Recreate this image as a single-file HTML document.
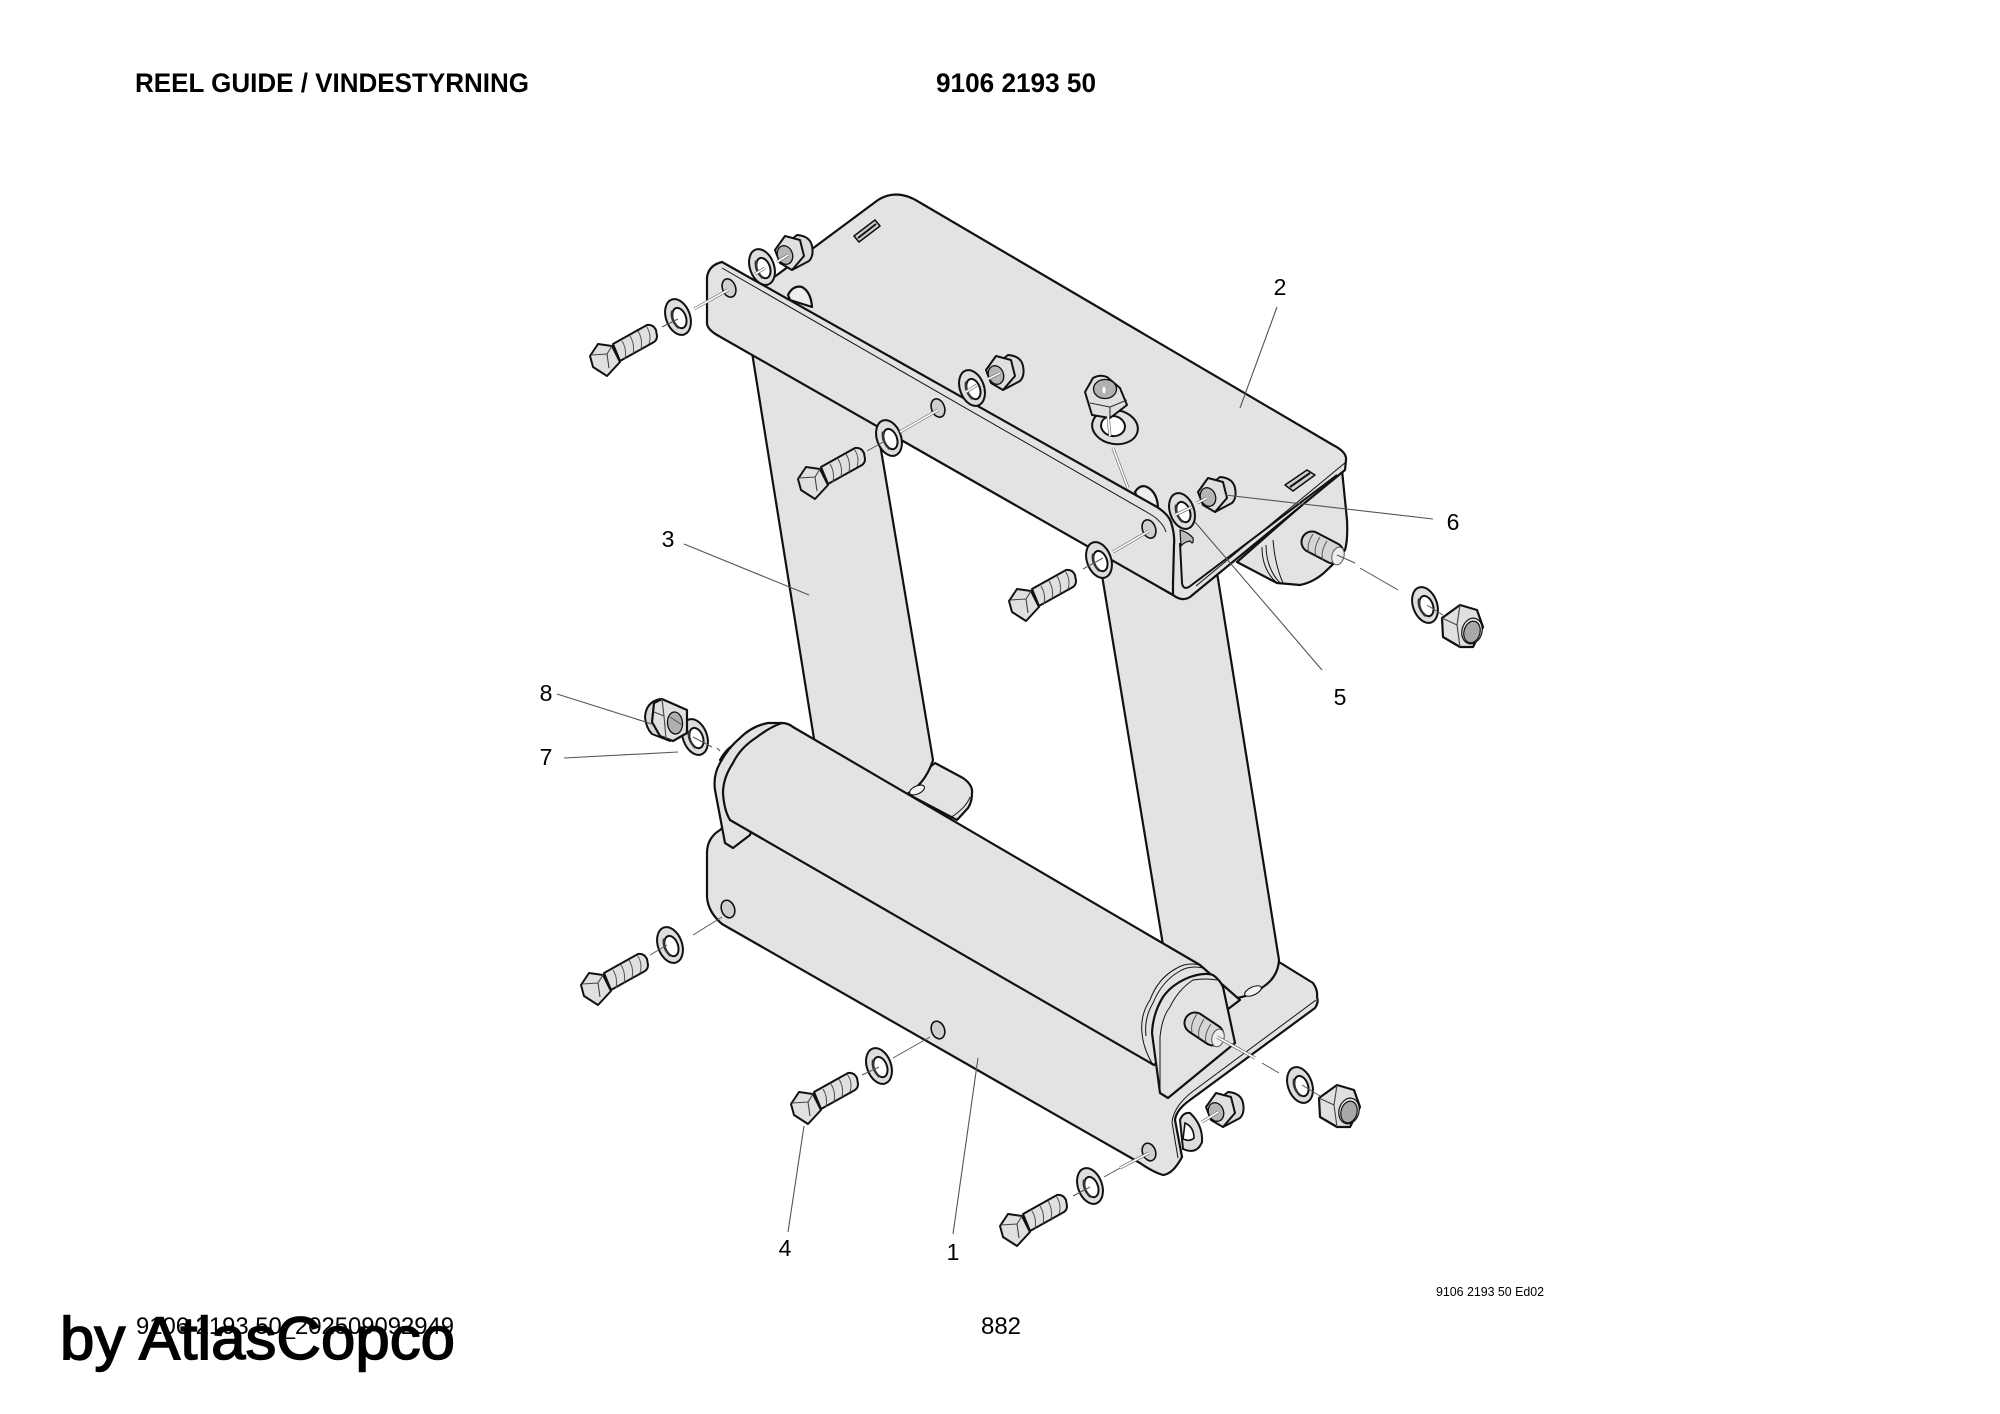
<!DOCTYPE html>
<html><head><meta charset="utf-8"><title>Reel Guide</title>
<style>html,body{margin:0;padding:0;background:#fff;width:2000px;height:1414px;overflow:hidden}svg{display:block}text{font-family:"Liberation Sans",sans-serif;fill:#000}</style></head>
<body>
<svg width="2000" height="1414" viewBox="0 0 2000 1414" xmlns="http://www.w3.org/2000/svg">
<defs>
<g id="bolt" stroke="#111" stroke-width="2" stroke-linejoin="round" fill="#e0e0e0">
<path d="M23 -12L57 -31Q63 -32 66 -26L67 -20Q67 -16 64 -14L30 5Z"/>
<path d="M32 -15Q37 -7 35 3M40 -20Q45 -12 43 -2M48 -25Q53 -17 51 -7M56 -30Q62 -22 59 -12" fill="none" stroke-width="1" stroke="#555"/>
<path d="M0 0L8 -12L22 -10L30 6L17 20L3 11Z"/>
<path d="M1 -1L17 -2L22 -10M17 -2L19 12" fill="none" stroke-width="1.1" stroke="#444"/>
</g>
<g id="washer">
<ellipse rx="12" ry="18.5" transform="rotate(-20)" fill="#dedede" stroke="#111" stroke-width="2"/>
<ellipse cx="1" cy="1.5" rx="6.5" ry="10.5" transform="rotate(-20)" fill="#fff" stroke="#111" stroke-width="2"/>
<path d="M-5 -7Q-8 2 -1 11" transform="rotate(-8)" fill="none" stroke="#333" stroke-width="2.4"/>
</g>
<g id="nut" stroke="#111" stroke-linejoin="round">
<path d="M5 -18Q18 -17 20 -7Q22 3 17 8L0 17L-5 -10Z" fill="#dcdcdc" stroke-width="2"/>
<path d="M-17 -3L-7 -17L8 -13L12 3L0 17L-12 10Z" fill="#e0e0e0" stroke-width="2"/>
<ellipse cx="-7" cy="2" rx="7.5" ry="9.5" transform="rotate(-20 -7 2)" fill="#b5b5b5" stroke-width="1.3"/>
</g>
<g id="nutR" stroke="#111" stroke-linejoin="round">
<path d="M-18 -9L0 -22L17 -17L23 0L13 20L0 20L-17 10Z" fill="#e0e0e0" stroke-width="2.2"/>
<path d="M-18 -9L-3 -2L0 20M-3 -2L0 -22" fill="none" stroke-width="1.1" stroke="#444"/>
<ellipse cx="12" cy="4" rx="10" ry="13" transform="rotate(15 12 4)" fill="#eee" stroke-width="1.2"/>
<ellipse cx="12" cy="5" rx="8" ry="11" transform="rotate(15 12 5)" fill="#a8a8a8" stroke-width="1.2"/>
</g>
</defs>

<rect width="2000" height="1414" fill="#fff"/>

<g fill="#e3e3e3" stroke="#111" stroke-width="2.2" stroke-linejoin="round">
<!-- lower bar + foot -->
<path d="M720 830Q707 838 707 853L707 897Q708 912 722 924L1140 1163Q1153 1172 1163 1175Q1173 1174 1182 1157L1175 1120Q1176 1110 1190 1100L1315 1008Q1319 1002 1317 997Q1318 990 1313 983L1279 962L1200 1000L1154 1064L730 820Z"/>
<path d="M1316 1000L1192 1092Q1174 1106 1172 1122L1178 1158" fill="none" stroke-width="1"/>
<!-- left foot tab -->
<path d="M935 763L963 778Q973 785 972 793Q972 802 968 808L957 820L900 790Z"/>
<path d="M970 797Q966 808 950 818" fill="none" stroke-width="1"/>
<!-- right leg -->
<path d="M1097 545L1163 945L1230 999Q1250 997 1263 987Q1278 977 1279 960L1215 560Z"/>
<ellipse cx="1253" cy="991" rx="9" ry="4" transform="rotate(-25 1253 991)" fill="#f3f3f3" stroke-width="1.1"/>
<!-- left leg -->
<path d="M750 340L815 745L905 795Q925 785 933 760L876 420Z"/>
<ellipse cx="917" cy="790" rx="8" ry="4" transform="rotate(-25 917 790)" fill="#f3f3f3" stroke-width="1.1"/>
<!-- top roller end behind plate -->
<path d="M1342 470L1347 520Q1348 540 1345 550Q1338 560 1327 570Q1315 582 1300 585L1277 583L1237 562Z"/>
<path d="M1262 547Q1262 570 1277 583M1273 540Q1275 565 1283 583M1266 545Q1266 568 1280 583" fill="none" stroke-width="1"/>
<!-- top plate -->
<path d="M777 275L878 200Q897 188 919 202L1333 445Q1347 452 1346 460L1345 470L1190 597Q1182 602 1173 595L707 323Z"/>
<path d="M1180 543L1182 583Q1183 590 1189 587L1337 475" fill="none" stroke-width="2"/>
<path d="M1346 462L1196 586" fill="none" stroke-width="1"/>
<!-- slots -->
<path d="M1285 485L1307 470L1315 475L1293 491Z" fill="#d0d0d0" stroke-width="1.6"/>
<path d="M1290 487L1310 473" fill="none" stroke-width="2"/>
<path d="M854 236L875 220L880 226L859 242Z" fill="#d0d0d0" stroke-width="1.6"/>
<path d="M858 238L876 224" fill="none" stroke-width="2"/>
<!-- small studs behind bar -->
<path d="M788 295Q793 285 802 287Q811 292 812 307L790 300Z" fill="#eee"/>
<path d="M1135 492Q1140 484 1147 487Q1157 492 1158 507L1138 500Z" fill="#eee"/>
<path d="M1180 530Q1188 532 1193 538Q1194 546 1190 541Q1184 542 1181 546Z" fill="#bbb" stroke-width="1.2"/>
<!-- front bar -->
<path d="M707 277Q709 265 722 262L1157 507Q1168 514 1171 522Q1175 535 1174 545L1173 583L1173 595L717 335Q707 329 707 323Z"/>
<path d="M722 268L1150 514Q1163 522 1166 532" fill="none" stroke-width="1"/>
</g>

<g fill="#cfcfcf" stroke="#111" stroke-width="1.6">
<ellipse cx="729" cy="288" rx="6.5" ry="9.5" transform="rotate(-20 729 288)"/>
<ellipse cx="938" cy="408" rx="6.5" ry="9.5" transform="rotate(-20 938 408)"/>
<ellipse cx="1149" cy="529" rx="6.5" ry="9.5" transform="rotate(-20 1149 529)" />
<ellipse cx="728" cy="909" rx="6.5" ry="9" transform="rotate(-20 728 909)"/>
<ellipse cx="938" cy="1030" rx="6.5" ry="9" transform="rotate(-20 938 1030)"/>
<ellipse cx="1149" cy="1152" rx="6.5" ry="9" transform="rotate(-20 1149 1152)"/>
</g>

<!-- roller assembly -->
<g fill="#e3e3e3" stroke="#111" stroke-width="2.2" stroke-linejoin="round">
<path d="M720 760Q727 748 734 745L732 765Z" fill="#ccc"/>
<path d="M725 843L715 790Q713 775 720 763Q728 748 740 738Q752 726 768 723L782 723L760 800L750 835L733 848Z"/>
<path d="M733 848L725 843" fill="none"/>
<path d="M782 723Q770 727 757 737Q740 748 733 763Q723 778 723 793Q724 810 730 820L1154 1065L1240 1000L1200 965L793 727Q788 723 782 723Z"/>
<path d="M1200 965Q1187 962 1177 968Q1158 978 1150 1000Q1140 1015 1142 1033Q1143 1048 1153 1065" fill="none" stroke-width="1"/>
<path d="M1203 968Q1190 965 1180 971Q1162 981 1153 1003Q1144 1018 1146 1036" fill="none" stroke-width="1"/>
<path d="M1160 1093L1152 1033Q1153 1013 1163 997Q1172 984 1190 977Q1205 972 1213 975Q1220 980 1223 987L1235 1043L1168 1098Z"/>
<path d="M1160 1093L1168 1098" fill="none"/>
<path d="M1160 1093L1160 1037Q1162 1017 1170 1007Q1178 990 1193 980Q1206 978 1217 980" fill="none" stroke-width="1"/>
</g>

<!-- studs -->
<g fill="none" stroke-linecap="round">
<path d="M1312 542L1333 553" stroke="#111" stroke-width="23"/>
<path d="M1312 542L1333 553" stroke="#d6d6d6" stroke-width="19"/>
<path d="M1195 1023L1213 1035" stroke="#111" stroke-width="23"/>
<path d="M1195 1023L1213 1035" stroke="#d6d6d6" stroke-width="19"/>
<g stroke="#555" stroke-width="1" stroke-linecap="butt">
<path d="M1313 534Q1306 545 1309 552M1320 537Q1313 548 1316 556M1327 541Q1320 552 1323 560"/>
<path d="M1197 1014Q1190 1024 1192 1032M1204 1019Q1197 1030 1199 1037M1211 1024Q1204 1034 1206 1042"/>
</g>
<ellipse cx="1338" cy="556" rx="6" ry="9" transform="rotate(15 1338 556)" fill="#eee" stroke="#555" stroke-width="1"/>
<ellipse cx="1218" cy="1038" rx="6" ry="9" transform="rotate(15 1218 1038)" fill="#eee" stroke="#555" stroke-width="1"/>
</g>

<!-- bolts -->
<use href="#bolt" x="590" y="356"/>
<use href="#bolt" x="798" y="479"/>
<use href="#bolt" x="1009" y="601"/>
<use href="#bolt" x="581" y="985"/>
<use href="#bolt" x="791" y="1104"/>
<use href="#bolt" x="1000" y="1226"/>

<!-- washers -->
<use href="#washer" x="678" y="317"/>
<use href="#washer" x="889" y="438"/>
<use href="#washer" x="1099" y="560"/>
<use href="#washer" x="762" y="267"/>
<use href="#washer" x="972" y="388"/>
<use href="#washer" x="1182" y="511"/>
<use href="#washer" x="1425" y="605"/>
<use href="#washer" x="670" y="945"/>
<use href="#washer" x="879" y="1066"/>
<use href="#washer" x="1090" y="1186"/>
<use href="#washer" x="1300" y="1085"/>
<use href="#washer" x="695" y="737"/>

<!-- washer partly behind lower bar -->
<path d="M1190 1113Q1203 1125 1202 1142Q1197 1155 1183 1149L1180 1120Q1183 1112 1190 1113Z" fill="#dedede" stroke="#111" stroke-width="2"/>
<path d="M1185 1123Q1194 1127 1194 1138Q1190 1142 1183 1139Z" fill="#fff" stroke="#111" stroke-width="1.6"/>

<!-- nuts -->
<use href="#nut" x="792" y="253"/>
<use href="#nut" x="1003" y="373"/>
<use href="#nut" x="1215" y="495"/>
<use href="#nut" x="1223" y="1110"/>
<use href="#nutR" x="1460" y="627"/>
<use href="#nutR" x="1337" y="1107"/>
<!-- item 8 nut -->
<g stroke="#111" stroke-linejoin="round">
<path d="M660 699Q646 702 645 717Q646 728 652 734L670 741Z" fill="#d8d8d8" stroke-width="2"/>
<path d="M654 703L662 699L687 710L687 733L673 741L660 736L652 722Z" fill="#e0e0e0" stroke-width="2.2"/>
<path d="M654 712L664 716L666 739M664 716L662 699" fill="none" stroke-width="1.1" stroke="#444"/>
<ellipse cx="675" cy="723" rx="7.5" ry="11" transform="rotate(-5 675 723)" fill="#b0b0b0" stroke-width="1.3"/>
</g>

<!-- lying washer and top nut -->
<ellipse cx="1115" cy="427" rx="23" ry="17" transform="rotate(10 1115 427)" fill="#e0e0e0" stroke="#111" stroke-width="2"/>
<ellipse cx="1113" cy="426" rx="12" ry="10" transform="rotate(10 1113 426)" fill="#fff" stroke="#111" stroke-width="2"/>
<path d="M1085 392L1093 378Q1100 374 1107 377L1120 388L1127 405L1110 418L1092 415Z" fill="#e0e0e0" stroke="#111" stroke-width="2" stroke-linejoin="round"/>
<ellipse cx="1105" cy="389" rx="11.5" ry="9.5" fill="#b0b0b0" stroke="#111" stroke-width="1.3"/>
<ellipse cx="1104" cy="390" rx="1.5" ry="3.5" fill="#fff"/>
<path d="M1090 403L1110 407L1127 400M1110 407L1110 418" fill="none" stroke="#333" stroke-width="1.1"/>

<!-- axis lines: on-part segments -->
<g fill="none" stroke="#666" stroke-width="3">
<path d="M694 309L728 290M900 432L938 410M1113 552L1149 531M755 274L765 268M777 262L788 255M966 392L977 385M988 379L1000 373M1175 515L1192 507M1197 503L1207 498M1113 448L1128 488M1217 1037L1255 1058M1108 416L1110 436M1202 1122L1218 1112M1120 1168L1149 1153"/>
</g>
<g fill="none" stroke="#fff" stroke-width="1.7">
<path d="M694 309L728 290M900 432L938 410M1113 552L1149 531M755 274L765 268M777 262L788 255M966 392L977 385M988 379L1000 373M1175 515L1192 507M1197 503L1207 498M1113 448L1128 488M1217 1037L1255 1058M1108 416L1110 436M1202 1122L1218 1112M1120 1168L1149 1153"/>
</g>
<!-- axis lines: free segments -->
<g fill="none" stroke="#555" stroke-width="1">
<path d="M650 955L667 945M862 1075L879 1067M1073 1196L1090 1187M693 935L722 917M893 1058L930 1037M1104 1177L1120 1168"/>
<path d="M662 327L678 319M1337 555L1355 563M1360 568L1398 590M1427 605L1443 615M1262 1063L1279 1073M1302 1085L1320 1096M670 717L682 725M693 737L712 747M717 748L720 751M867 451L885 441M1083 569L1103 558"/>
</g>

<!-- callout lines -->
<g stroke="#555" stroke-width="1.1" fill="none">
<path d="M1277 307L1240 408"/>
<path d="M684 544L809 595"/>
<path d="M1433 519L1225 495"/>
<path d="M1322 670L1195 522"/>
<path d="M557 694L652 724"/>
<path d="M564 758L678 752"/>
<path d="M788 1232L804 1126"/>
<path d="M953 1234L978 1058"/>
</g>

<!-- labels -->
<g font-size="23" text-anchor="middle">
<text x="1280" y="295">2</text>
<text x="668" y="547">3</text>
<text x="1453" y="530">6</text>
<text x="1340" y="705">5</text>
<text x="546" y="701">8</text>
<text x="546" y="765">7</text>
<text x="785" y="1256">4</text>
<text x="953" y="1260">1</text>
</g>

<text x="135" y="92" font-size="27" font-weight="700" textLength="394" lengthAdjust="spacingAndGlyphs">REEL GUIDE / VINDESTYRNING</text>
<text x="936" y="92" font-size="27" font-weight="700" textLength="160" lengthAdjust="spacingAndGlyphs">9106 2193 50</text>
<text x="136" y="1334" font-size="24" textLength="318" lengthAdjust="spacingAndGlyphs">9106 2193 50_202509092949</text>
<text x="981" y="1334" font-size="24" textLength="40" lengthAdjust="spacingAndGlyphs">882</text>
<text x="1436" y="1296" font-size="13" textLength="108" lengthAdjust="spacingAndGlyphs">9106 2193 50 Ed02</text>
<text x="60" y="1359" font-size="60" stroke="#000" stroke-width="1.5" textLength="395" lengthAdjust="spacingAndGlyphs">by AtlasCopco</text>
</svg>
</body></html>
